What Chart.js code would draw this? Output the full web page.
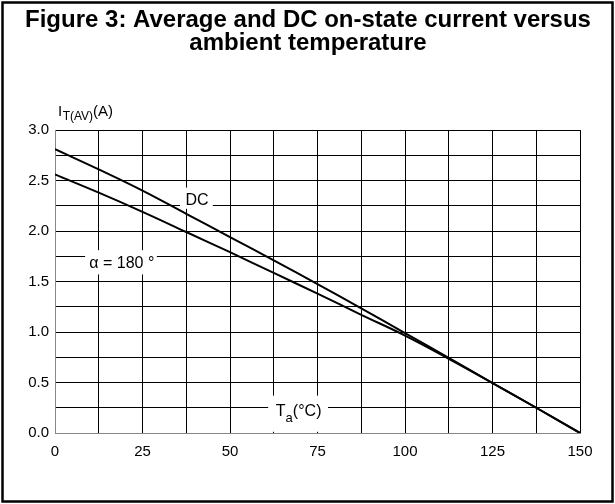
<!DOCTYPE html>
<html>
<head>
<meta charset="utf-8">
<script src="https://cdn.jsdelivr.net/npm/chart.js@4.4.1/dist/chart.umd.min.js"></script>
<style>
html,body{margin:0;padding:0;background:#fff;}
#wrap{position:relative;width:615px;height:504px;}
</style>
</head>
<body>
<div id="wrap"><canvas id="c" width="615" height="504"></canvas></div>
<script>
const temps = [0, 12.5, 25, 37.5, 50, 62.5, 75, 87.5, 100, 112.5, 125, 137.5, 150];
const dcCurrent = [2.81, 2.61, 2.40, 2.17, 1.94, 1.71, 1.475, 1.235, 0.99, 0.745, 0.495, 0.25, 0];
const avgCurrent180 = [2.56, 2.38, 2.19, 1.99, 1.79, 1.585, 1.38, 1.17, 0.965, 0.735, 0.495, 0.25, 0];
const xTickLabels = ['0', '25', '50', '75', '100', '125', '150'];
const yTickLabels = ['0.0', '0.5', '1.0', '1.5', '2.0', '2.5', '3.0'];
const titleLines = ['Figure 3: Average and DC on-state current versus', 'ambient temperature'];

const FONT = '"Liberation Sans", Arial, Helvetica, sans-serif';

function pts(ys) { return temps.map((t, i) => ({x: t, y: ys[i]})); }

function maskRect(ctx, xs, ys, x0, x1, y0, y1) {
  const px0 = xs.getPixelForValue(x0), px1 = xs.getPixelForValue(x1);
  const py0 = ys.getPixelForValue(y1), py1 = ys.getPixelForValue(y0);
  ctx.fillRect(px0, py0, px1 - px0, py1 - py0);
}

const decor = {
  id: 'decor',
  beforeDatasetsDraw(chart) {
    const ctx = chart.ctx;
    const xs = chart.scales.x, ys = chart.scales.y;
    ctx.save();
    ctx.fillStyle = '#fff';
    maskRect(ctx, xs, ys, 35.7, 45.1, 2.22, 2.43);
    maskRect(ctx, xs, ys, 8.6, 29.1, 1.57, 1.81);
    maskRect(ctx, xs, ys, 60.9, 78, 0.012, 0.37);
    ctx.fillStyle = '#000';
    ctx.textBaseline = 'middle';
    ctx.textAlign = 'center';
    ctx.font = '16px ' + FONT;
    ctx.fillText('DC', xs.getPixelForValue(40.6), ys.getPixelForValue(2.30));
    ctx.fillText('\u03b1 = 180 \u00b0', xs.getPixelForValue(19.1), ys.getPixelForValue(1.68));
    // T_a(°C)
    ctx.textAlign = 'left';
    ctx.textBaseline = 'alphabetic';
    let x = xs.getPixelForValue(63.1);
    const by = ys.getPixelForValue(0.17);
    ctx.fillText('T', x, by);
    x += ctx.measureText('T').width;
    ctx.font = '13px ' + FONT;
    ctx.fillText('a', x, by + 6);
    x += ctx.measureText('a').width;
    ctx.font = '16px ' + FONT;
    ctx.fillText('(\u00b0C)', x, by);
    ctx.restore();
  },
  afterDraw(chart) {
    const ctx = chart.ctx;
    ctx.save();
    // outer frame
    ctx.strokeStyle = '#000';
    ctx.lineWidth = 2.5;
    ctx.strokeRect(2.5, 2.5, 610, 499);
    // title
    ctx.fillStyle = '#000';
    ctx.textAlign = 'center';
    ctx.textBaseline = 'alphabetic';
    ctx.font = 'bold 24px ' + FONT;
    ctx.fillText(titleLines[0], 308, 27);
    ctx.fillText(titleLines[1], 308, 50);
    // y axis title I_T(AV)(A)
    ctx.textAlign = 'left';
    let x = 58;
    const by = 116;
    ctx.font = '15px ' + FONT;
    ctx.fillText('I', x, by);
    x += ctx.measureText('I').width + 0.5;
    ctx.font = '12px ' + FONT;
    ctx.fillText('T(AV)', x, by + 4);
    x += ctx.measureText('T(AV)').width;
    ctx.font = '15px ' + FONT;
    ctx.fillText('(A)', x, by);
    ctx.restore();
  }
};

new Chart(document.getElementById('c'), {
  type: 'scatter',
  data: {
    datasets: [
      {label: 'DC', data: pts(dcCurrent), showLine: true, borderColor: '#000', borderWidth: 2, pointRadius: 0, tension: 0.4, fill: false},
      {label: '\u03b1 = 180 \u00b0', data: pts(avgCurrent180), showLine: true, borderColor: '#000', borderWidth: 2, pointRadius: 0, tension: 0.4, fill: false}
    ]
  },
  options: {
    responsive: false,
    animation: false,
    devicePixelRatio: 1,
    layout: {padding: {left: 0, right: 35, top: 130, bottom: 41}},
    plugins: {legend: {display: false}, tooltip: {enabled: false}, title: {display: false}},
    scales: {
      x: {
        type: 'linear', min: 0, max: 150,
        afterFit(s) { s.height = 30; },
        grid: {color: '#000', lineWidth: 1, drawTicks: false},
        border: {color: '#888', width: 1},
        ticks: {
          stepSize: 12.5, padding: 10, color: '#000', maxRotation: 0, autoSkip: false,
          font: {family: FONT, size: 15},
          callback(v) { const i = xTickLabels.indexOf(String(v)); return i >= 0 ? xTickLabels[i] : ''; }
        }
      },
      y: {
        type: 'linear', min: 0, max: 3,
        afterFit(s) { s.width = 55; },
        grid: {color: '#000', lineWidth: 1, drawTicks: false},
        border: {color: '#888', width: 1},
        ticks: {
          stepSize: 0.25, padding: 6, color: '#000', autoSkip: false,
          font: {family: FONT, size: 15},
          callback(v) { const i = yTickLabels.indexOf(Number(v).toFixed(1)); return (Math.abs(v * 2 - Math.round(v * 2)) < 1e-6 && i >= 0) ? yTickLabels[i] : ''; }
        }
      }
    }
  },
  plugins: [decor]
});
</script>
</body>
</html>
